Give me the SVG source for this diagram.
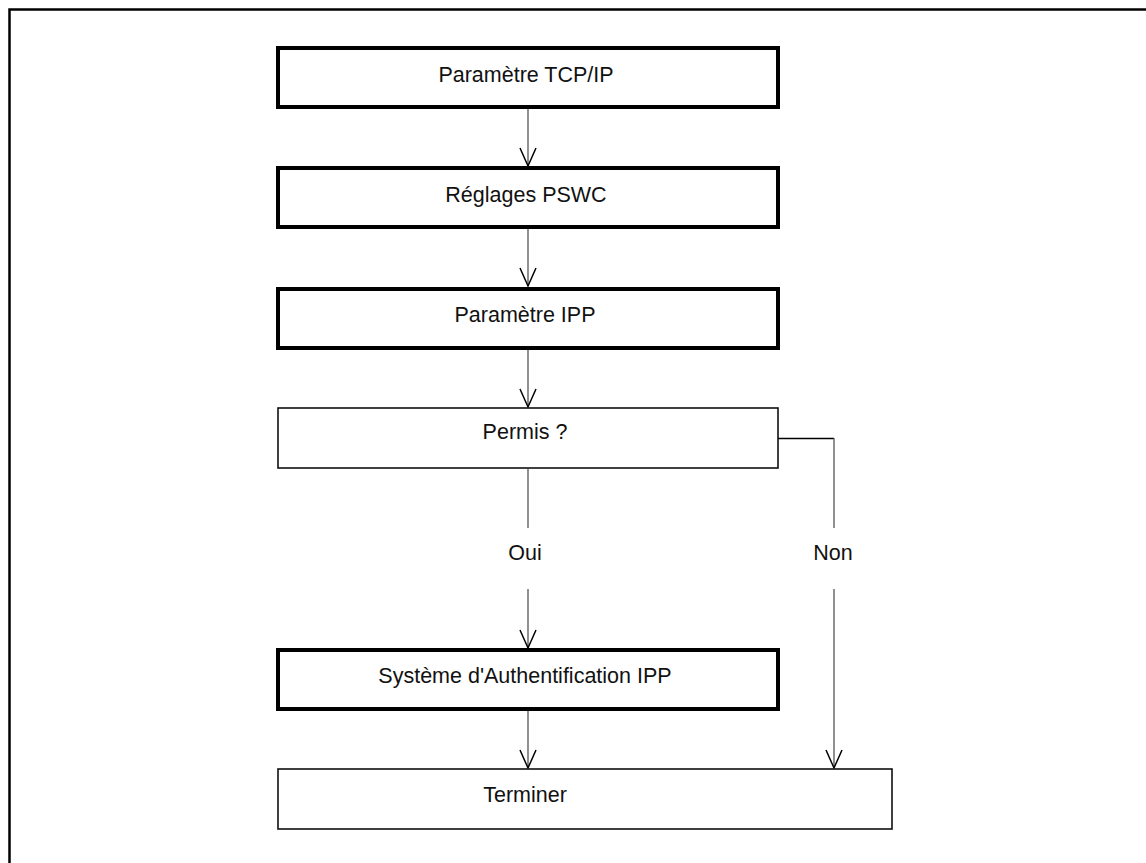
<svg xmlns="http://www.w3.org/2000/svg" width="1146" height="863" viewBox="0 0 1146 863">
  <style>
    .thick { fill: #fff; stroke: #000; stroke-width: 4; }
    .thin { fill: #fff; stroke: #111; stroke-width: 1.6; }
    .lbl { font-family: "Liberation Sans", Arial, sans-serif; font-size: 21.5px; fill: #111; text-anchor: middle; }
    .conn { fill: none; stroke: #555; stroke-width: 1.3; }
    .frame { fill: none; stroke: #000; stroke-width: 2.5; }
  </style>
  <defs>
    <marker id="arr" markerUnits="userSpaceOnUse" viewBox="-20 -10 22 20" refX="0" refY="0" markerWidth="22" markerHeight="20" orient="auto">
      <path d="M-18,-8 L0,0 L-18,8" fill="none" stroke="#000" stroke-width="1.5"/>
    </marker>
  </defs>
  <rect width="1146" height="863" fill="#fff"/>
  <path class="frame" d="M9.5,863 L9.5,9.5 L1146,9.5"/>

  <g id="connectors">
    <line class="conn" x1="528" y1="109" x2="528" y2="166" marker-end="url(#arr)"/>
    <line class="conn" x1="528" y1="229" x2="528" y2="286" marker-end="url(#arr)"/>
    <line class="conn" x1="528" y1="350" x2="528" y2="407" marker-end="url(#arr)"/>
    <line class="conn" x1="528" y1="469" x2="528" y2="528"/>
    <line class="conn" x1="528" y1="589" x2="528" y2="648" marker-end="url(#arr)"/>
    <line class="conn" x1="528" y1="711" x2="528" y2="768" marker-end="url(#arr)"/>
    <line x1="778" y1="438.5" x2="834" y2="438.5" stroke="#000" stroke-width="1.4"/>
    <line class="conn" x1="834" y1="438" x2="834" y2="528"/>
    <line class="conn" x1="834" y1="589" x2="834" y2="768" marker-end="url(#arr)"/>
    <text class="lbl" x="525" y="560">Oui</text>
    <text class="lbl" x="833" y="560">Non</text>
  </g>

  <g id="n1">
    <rect class="thick" x="278" y="48" width="500" height="59"/>
    <text class="lbl" x="526" y="82">Paramètre TCP/IP</text>
  </g>
  <g id="n2">
    <rect class="thick" x="278" y="168" width="500" height="59"/>
    <text class="lbl" x="526" y="202">Réglages PSWC</text>
  </g>
  <g id="n3">
    <rect class="thick" x="278" y="289" width="500" height="59"/>
    <text class="lbl" x="525" y="322">Paramètre IPP</text>
  </g>
  <g id="n4">
    <rect class="thin" x="278" y="408" width="500" height="60"/>
    <text class="lbl" x="525" y="439">Permis ?</text>
  </g>
  <g id="n5">
    <rect class="thick" x="278" y="650" width="500" height="59"/>
    <text class="lbl" x="525" y="683">Système d'Authentification IPP</text>
  </g>
  <g id="n6">
    <rect class="thin" x="278" y="769" width="614" height="60"/>
    <text class="lbl" x="525" y="802">Terminer</text>
  </g>
</svg>
